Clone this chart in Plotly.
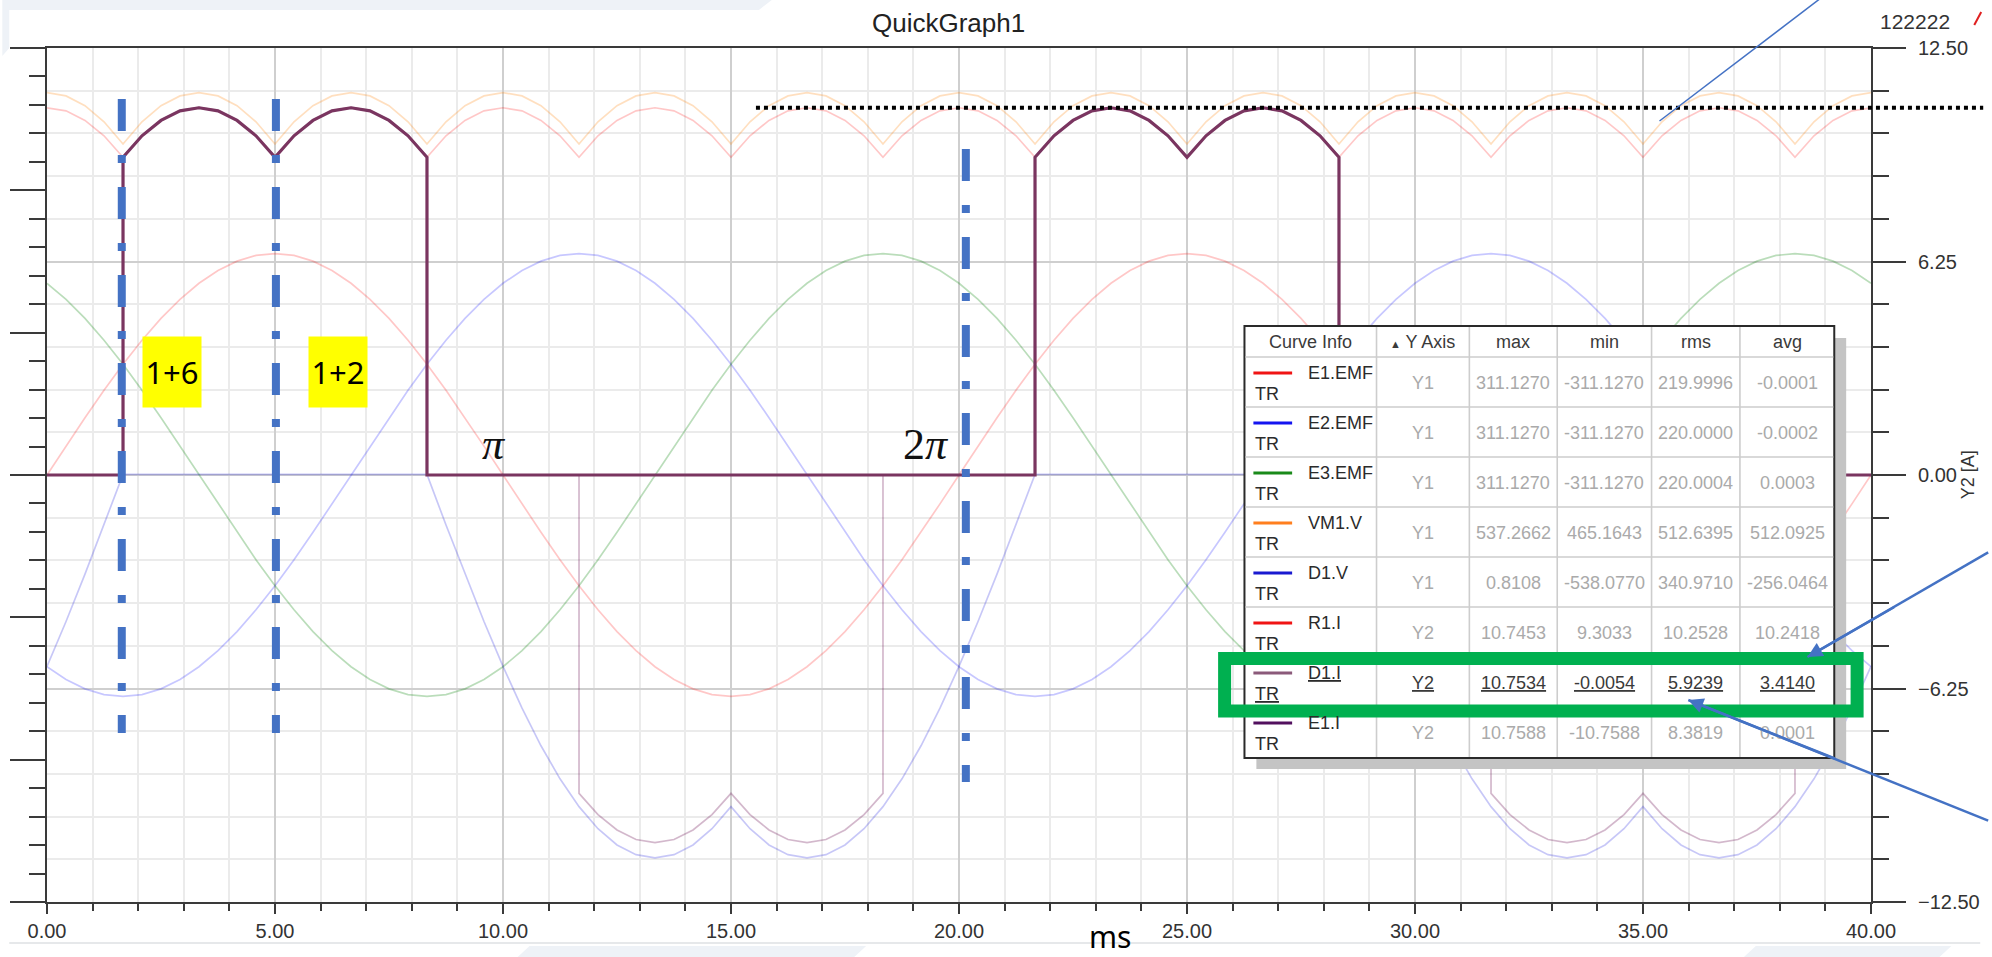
import plotly.graph_objects as go

# ---------------------------------------------------------------------------
# Sampled waveforms: time base in ms, one sample every 7.5 electrical degrees
# ---------------------------------------------------------------------------
t_ms = [0.000, 0.417, 0.833, 1.250, 1.667, 2.083, 2.500, 2.917, 3.333, 3.750, 4.167, 4.583,
        5.000, 5.417, 5.833, 6.250, 6.667, 7.083, 7.500, 7.917, 8.333, 8.750, 9.167, 9.583,
        10.000, 10.417, 10.833, 11.250, 11.667, 12.083, 12.500, 12.917, 13.333, 13.750, 14.167, 14.583,
        15.000, 15.417, 15.833, 16.250, 16.667, 17.083, 17.500, 17.917, 18.333, 18.750, 19.167, 19.583,
        20.000, 20.417, 20.833, 21.250, 21.667, 22.083, 22.500, 22.917, 23.333, 23.750, 24.167, 24.583,
        25.000, 25.417, 25.833, 26.250, 26.667, 27.083, 27.500, 27.917, 28.333, 28.750, 29.167, 29.583,
        30.000, 30.417, 30.833, 31.250, 31.667, 32.083, 32.500, 32.917, 33.333, 33.750, 34.167, 34.583,
        35.000, 35.417, 35.833, 36.250, 36.667, 37.083, 37.500, 37.917, 38.333, 38.750, 39.167, 39.583,
        40.000]

# Voltages on Y1 (V)
e1_emf = [0.0, 40.6, 80.5, 119.1, 155.6, 189.4, 220.0, 246.8, 269.4, 287.4, 300.5, 308.5,
          311.1, 308.5, 300.5, 287.4, 269.4, 246.8, 220.0, 189.4, 155.6, 119.1, 80.5, 40.6,
          0.0, -40.6, -80.5, -119.1, -155.6, -189.4, -220.0, -246.8, -269.4, -287.4, -300.5, -308.5,
          -311.1, -308.5, -300.5, -287.4, -269.4, -246.8, -220.0, -189.4, -155.6, -119.1, -80.5, -40.6,
          0.0, 40.6, 80.5, 119.1, 155.6, 189.4, 220.0, 246.8, 269.4, 287.4, 300.5, 308.5,
          311.1, 308.5, 300.5, 287.4, 269.4, 246.8, 220.0, 189.4, 155.6, 119.1, 80.5, 40.6,
          0.0, -40.6, -80.5, -119.1, -155.6, -189.4, -220.0, -246.8, -269.4, -287.4, -300.5, -308.5,
          -311.1, -308.5, -300.5, -287.4, -269.4, -246.8, -220.0, -189.4, -155.6, -119.1, -80.5, -40.6,
          0.0]
e2_emf = [-269.4, -287.4, -300.5, -308.5, -311.1, -308.5, -300.5, -287.4, -269.4, -246.8, -220.0, -189.4,
          -155.6, -119.1, -80.5, -40.6, 0.0, 40.6, 80.5, 119.1, 155.6, 189.4, 220.0, 246.8,
          269.4, 287.4, 300.5, 308.5, 311.1, 308.5, 300.5, 287.4, 269.4, 246.8, 220.0, 189.4,
          155.6, 119.1, 80.5, 40.6, 0.0, -40.6, -80.5, -119.1, -155.6, -189.4, -220.0, -246.8,
          -269.4, -287.4, -300.5, -308.5, -311.1, -308.5, -300.5, -287.4, -269.4, -246.8, -220.0, -189.4,
          -155.6, -119.1, -80.5, -40.6, 0.0, 40.6, 80.5, 119.1, 155.6, 189.4, 220.0, 246.8,
          269.4, 287.4, 300.5, 308.5, 311.1, 308.5, 300.5, 287.4, 269.4, 246.8, 220.0, 189.4,
          155.6, 119.1, 80.5, 40.6, 0.0, -40.6, -80.5, -119.1, -155.6, -189.4, -220.0, -246.8,
          -269.4]
e3_emf = [269.4, 246.8, 220.0, 189.4, 155.6, 119.1, 80.5, 40.6, 0.0, -40.6, -80.5, -119.1,
          -155.6, -189.4, -220.0, -246.8, -269.4, -287.4, -300.5, -308.5, -311.1, -308.5, -300.5, -287.4,
          -269.4, -246.8, -220.0, -189.4, -155.6, -119.1, -80.5, -40.6, 0.0, 40.6, 80.5, 119.1,
          155.6, 189.4, 220.0, 246.8, 269.4, 287.4, 300.5, 308.5, 311.1, 308.5, 300.5, 287.4,
          269.4, 246.8, 220.0, 189.4, 155.6, 119.1, 80.5, 40.6, 0.0, -40.6, -80.5, -119.1,
          -155.6, -189.4, -220.0, -246.8, -269.4, -287.4, -300.5, -308.5, -311.1, -308.5, -300.5, -287.4,
          -269.4, -246.8, -220.0, -189.4, -155.6, -119.1, -80.5, -40.6, 0.0, 40.6, 80.5, 119.1,
          155.6, 189.4, 220.0, 246.8, 269.4, 287.4, 300.5, 308.5, 311.1, 308.5, 300.5, 287.4,
          269.4]
vm1_v = [537.3, 532.7, 519.0, 496.4, 465.2, 496.4, 519.0, 532.7,
         537.3, 532.7, 519.0, 496.4, 465.2, 496.4, 519.0, 532.7,
         537.3, 532.7, 519.0, 496.4, 465.2, 496.4, 519.0, 532.7,
         537.3, 532.7, 519.0, 496.4, 465.2, 496.4, 519.0, 532.7,
         537.3, 532.7, 519.0, 496.4, 465.2, 496.4, 519.0, 532.7,
         537.3, 532.7, 519.0, 496.4, 465.2, 496.4, 519.0, 532.7,
         537.3, 532.7, 519.0, 496.4, 465.2, 496.4, 519.0, 532.7,
         537.3, 532.7, 519.0, 496.4, 465.2, 496.4, 519.0, 532.7,
         537.3, 532.7, 519.0, 496.4, 465.2, 496.4, 519.0, 532.7,
         537.3, 532.7, 519.0, 496.4, 465.2, 496.4, 519.0, 532.7,
         537.3, 532.7, 519.0, 496.4, 465.2, 496.4, 519.0, 532.7,
         537.3, 532.7, 519.0, 496.4, 465.2, 496.4, 519.0, 532.7,
         537.3]
d1_v = [-269.0, -205.9, -139.3, -70.2, 0.8, 0.8, 0.8, 0.8, 0.8, 0.8, 0.8, 0.8,
        0.8, 0.8, 0.8, 0.8, 0.8, 0.8, 0.8, 0.8, 0.8, -70.2, -139.3, -205.9,
        -269.0, -327.6, -380.5, -426.9, -466.0, -497.1, -519.8, -533.5, -538.1, -533.5, -519.8, -497.1,
        -466.0, -497.1, -519.8, -533.5, -538.1, -533.5, -519.8, -497.1, -466.0, -426.9, -380.5, -327.6,
        -269.0, -205.9, -139.3, -70.2, 0.8, 0.8, 0.8, 0.8, 0.8, 0.8, 0.8, 0.8,
        0.8, 0.8, 0.8, 0.8, 0.8, 0.8, 0.8, 0.8, 0.8, -70.2, -139.3, -205.9,
        -269.0, -327.6, -380.5, -426.9, -466.0, -497.1, -519.8, -533.5, -538.1, -533.5, -519.8, -497.1,
        -466.0, -497.1, -519.8, -533.5, -538.1, -533.5, -519.8, -497.1, -466.0, -426.9, -380.5, -327.6,
        -269.0]

# Currents on Y2 (A)
r1_i = [10.75, 10.66, 10.38, 9.93, 9.30, 9.93, 10.38, 10.66,
        10.75, 10.66, 10.38, 9.93, 9.30, 9.93, 10.38, 10.66,
        10.75, 10.66, 10.38, 9.93, 9.30, 9.93, 10.38, 10.66,
        10.75, 10.66, 10.38, 9.93, 9.30, 9.93, 10.38, 10.66,
        10.75, 10.66, 10.38, 9.93, 9.30, 9.93, 10.38, 10.66,
        10.75, 10.66, 10.38, 9.93, 9.30, 9.93, 10.38, 10.66,
        10.75, 10.66, 10.38, 9.93, 9.30, 9.93, 10.38, 10.66,
        10.75, 10.66, 10.38, 9.93, 9.30, 9.93, 10.38, 10.66,
        10.75, 10.66, 10.38, 9.93, 9.30, 9.93, 10.38, 10.66,
        10.75, 10.66, 10.38, 9.93, 9.30, 9.93, 10.38, 10.66,
        10.75, 10.66, 10.38, 9.93, 9.30, 9.93, 10.38, 10.66,
        10.75, 10.66, 10.38, 9.93, 9.30, 9.93, 10.38, 10.66,
        10.75]

d1_i_t = [0.000, 1.667,
          1.667, 2.083, 2.500, 2.917, 3.333, 3.750, 4.167, 4.583, 5.000,
          5.417, 5.833, 6.250, 6.667, 7.083, 7.500, 7.917, 8.333,
          8.333, 21.667,
          21.667, 22.083, 22.500, 22.917, 23.333, 23.750, 24.167, 24.583, 25.000,
          25.417, 25.833, 26.250, 26.667, 27.083, 27.500, 27.917, 28.333,
          28.333, 40.000]
d1_i = [0.0, 0.0,
        9.30, 9.93, 10.38, 10.66, 10.75, 10.66, 10.38, 9.93, 9.30,
        9.93, 10.38, 10.66, 10.75, 10.66, 10.38, 9.93, 9.30,
        0.0, 0.0,
        9.30, 9.93, 10.38, 10.66, 10.75, 10.66, 10.38, 9.93, 9.30,
        9.93, 10.38, 10.66, 10.75, 10.66, 10.38, 9.93, 9.30,
        0.0, 0.0]

e1_i_t = [0.000, 1.667,
          1.667, 2.083, 2.500, 2.917, 3.333, 3.750, 4.167, 4.583, 5.000,
          5.417, 5.833, 6.250, 6.667, 7.083, 7.500, 7.917, 8.333,
          8.333, 11.667,
          11.667, 12.083, 12.500, 12.917, 13.333, 13.750, 14.167, 14.583, 15.000,
          15.417, 15.833, 16.250, 16.667, 17.083, 17.500, 17.917, 18.333,
          18.333, 21.667,
          21.667, 22.083, 22.500, 22.917, 23.333, 23.750, 24.167, 24.583, 25.000,
          25.417, 25.833, 26.250, 26.667, 27.083, 27.500, 27.917, 28.333,
          28.333, 31.667,
          31.667, 32.083, 32.500, 32.917, 33.333, 33.750, 34.167, 34.583, 35.000,
          35.417, 35.833, 36.250, 36.667, 37.083, 37.500, 37.917, 38.333,
          38.333, 40.000]
e1_i = [0.0, 0.0,
        9.32, 9.94, 10.39, 10.67, 10.76, 10.67, 10.39, 9.94, 9.32,
        9.94, 10.39, 10.67, 10.76, 10.67, 10.39, 9.94, 9.32,
        0.0, 0.0,
        -9.32, -9.94, -10.39, -10.67, -10.76, -10.67, -10.39, -9.94, -9.32,
        -9.94, -10.39, -10.67, -10.76, -10.67, -10.39, -9.94, -9.32,
        0.0, 0.0,
        9.32, 9.94, 10.39, 10.67, 10.76, 10.67, 10.39, 9.94, 9.32,
        9.94, 10.39, 10.67, 10.76, 10.67, 10.39, 9.94, 9.32,
        0.0, 0.0,
        -9.32, -9.94, -10.39, -10.67, -10.76, -10.67, -10.39, -9.94, -9.32,
        -9.94, -10.39, -10.67, -10.76, -10.67, -10.39, -9.94, -9.32,
        0.0, 0.0]

# Curve Info table
info_header = ["Curve Info", "<span style='font-size:11px'>▲</span> Y Axis", "max", "min", "rms", "avg"]
info_names = ["E1.EMF", "E2.EMF", "E3.EMF", "VM1.V", "D1.V", "R1.I", "D1.I", "E1.I"]
info_axis = ["Y1", "Y1", "Y1", "Y1", "Y1", "Y2", "Y2", "Y2"]
info_max = ["311.1270", "311.1270", "311.1270", "537.2662", "0.8108", "10.7453", "10.7534", "10.7588"]
info_min = ["-311.1270", "-311.1270", "-311.1270", "465.1643", "-538.0770", "9.3033", "-0.0054", "-10.7588"]
info_rms = ["219.9996", "220.0000", "220.0004", "512.6395", "340.9710", "10.2528", "5.9239", "8.3819"]
info_avg = ["-0.0001", "-0.0002", "0.0003", "512.0925", "-256.0464", "10.2418", "3.4140", "0.0001"]
info_swatch = ["#f01414", "#1414f0", "#1a8a1a", "#ff7f1e", "#1a1ad0", "#f01414", "#8b5a7a", "#52105e"]
selected_curve = "D1.I"
d1_i_peak = 10.7534

# Commutation markers and phase-pair labels
marker_ms = [1.64, 5.02, 20.15]
pair_labels = ["1+6", "1+2"]

# ---------------------------------------------------------------------------
# Page geometry (pixels) and helpers for paper-referenced decorations
# ---------------------------------------------------------------------------
W, H = 1992, 957
L, R, T, B = 45, 1882, 48, 902


def px(x):
    return (x - L) / (R - L)


def py(y):
    return (B - y) / (B - T)


fig = go.Figure()

faded = [
    (t_ms, e1_emf, "E1.EMF", "y", "rgba(255,0,0,0.22)"),
    (t_ms, e2_emf, "E2.EMF", "y", "rgba(0,0,255,0.22)"),
    (t_ms, e3_emf, "E3.EMF", "y", "rgba(0,128,0,0.27)"),
    (t_ms, vm1_v, "VM1.V", "y", "rgba(255,127,0,0.25)"),
    (t_ms, d1_v, "D1.V", "y", "rgba(0,0,220,0.22)"),
    (t_ms, r1_i, "R1.I", "y2", "rgba(255,0,0,0.22)"),
    (e1_i_t, e1_i, "E1.I", "y2", "rgba(122,40,100,0.33)"),
]
for xs, ys, name, ax, col in faded:
    fig.add_trace(go.Scatter(x=xs, y=ys, name=name, yaxis=ax, mode="lines",
                             line=dict(color=col, width=1.7), hoverinfo="skip"))

fig.add_trace(go.Scatter(x=d1_i_t, y=d1_i, name="D1.I", yaxis="y2", mode="lines",
                         line=dict(color="#7a3560", width=3.2)))

shapes = []
annotations = []

# slide background bands around the captured window
shapes.append(dict(type="path", xref="paper", yref="paper", layer="below",
                   path=f"M {px(0)},{py(0)} L {px(775)},{py(0)} L {px(762)},{py(10)} L {px(7)},{py(10)} "
                        f"L {px(7)},{py(48)} L {px(0)},{py(56)} Z",
                   fillcolor="#eef2f7", line=dict(width=0)))
shapes.append(dict(type="line", xref="paper", yref="paper", layer="below",
                   x0=px(7), x1=px(1992), y0=py(943), y1=py(943), line=dict(color="#e6e8ea", width=2)))
for xa, xb in [(531, 870), (1766, 1963)]:
    shapes.append(dict(type="path", xref="paper", yref="paper", layer="below",
                       path=f"M {px(xa)},{py(946)} L {px(xb)},{py(946)} L {px(xb - 12)},{py(957)} "
                            f"L {px(xa - 12)},{py(957)} Z",
                       fillcolor="#eef2f7", line=dict(width=0)))

# dash-dot commutation markers
marker_spans = [(99, 733), (99, 733), (149, 782)]
for xm, (ya, yb) in zip(marker_ms, marker_spans):
    shapes.append(dict(type="line", xref="x", yref="paper", layer="above",
                       x0=xm, x1=xm, y0=py(ya), y1=py(yb),
                       line=dict(color="#4472c4", width=8, dash="32px,24px,8px,24px")))

# dotted level line at the D1.I peak
shapes.append(dict(type="line", xref="paper", yref="y2", layer="above",
                   x0=px(759), x1=px(1995), y0=d1_i_peak, y1=d1_i_peak,
                   line=dict(color="black", width=4, dash="4px,4px")))

# thin pointer line towards the top edge
shapes.append(dict(type="line", xref="paper", yref="paper", layer="above",
                   x0=px(1669), y0=py(121), x1=px(1862), y1=py(-25),
                   line=dict(color="#4472c4", width=1.5)))
shapes.append(dict(type="line", xref="paper", yref="paper", layer="above",
                   x0=px(1986), y0=py(25), x1=px(1993), y1=py(12),
                   line=dict(color="#e02020", width=2)))

# Curve Info table
tb_l, tb_r, tb_t, tb_b = 1251, 1845, 326, 758
head_b = 357
row_h = 50
col_edges = [1251, 1384, 1477.5, 1566, 1661, 1750, 1845]
shapes.append(dict(type="rect", xref="paper", yref="paper", layer="above",
                   x0=px(tb_l + 12), x1=px(tb_r + 12), y0=py(tb_t + 12), y1=py(tb_b + 11),
                   fillcolor="#c4c4c4", line=dict(width=0)))
shapes.append(dict(type="rect", xref="paper", yref="paper", layer="above",
                   x0=px(tb_l), x1=px(tb_r), y0=py(tb_t), y1=py(tb_b),
                   fillcolor="white", line=dict(color="#2a2a2a", width=2)))
for i in range(len(info_names)):
    yl = head_b + i * row_h
    shapes.append(dict(type="line", xref="paper", yref="paper", layer="above",
                       x0=px(tb_l + 1), x1=px(tb_r - 1), y0=py(yl), y1=py(yl),
                       line=dict(color="#cdcdcd", width=1.6)))
for xe in col_edges[1:-1]:
    shapes.append(dict(type="line", xref="paper", yref="paper", layer="above",
                       x0=px(xe), x1=px(xe), y0=py(tb_t + 1), y1=py(tb_b - 1),
                       line=dict(color="#cdcdcd", width=1.6)))

col_mid = [(a + b) / 2 for a, b in zip(col_edges[:-1], col_edges[1:])]
tfont = "Liberation Sans, Arial, sans-serif"
for label, xc in zip(info_header, col_mid):
    annotations.append(dict(x=px(xc), y=py((tb_t + head_b) / 2), xref="paper", yref="paper",
                            text=label, showarrow=False, xanchor="center", yanchor="middle",
                            font=dict(family=tfont, size=18, color="#3a3a3a")))

for i, name in enumerate(info_names):
    top = head_b + i * row_h
    sel = name == selected_curve
    under = "under" if sel else "none"
    shapes.append(dict(type="line", xref="paper", yref="paper", layer="above",
                       x0=px(1260), x1=px(1299), y0=py(top + 16), y1=py(top + 16),
                       line=dict(color=info_swatch[i], width=3)))
    annotations.append(dict(x=px(1313), y=py(top + 16), xref="paper", yref="paper", text=name,
                            showarrow=False, xanchor="left", yanchor="middle",
                            font=dict(family=tfont, size=18, color="#2b2b2b", lineposition=under)))
    annotations.append(dict(x=px(1260), y=py(top + 37), xref="paper", yref="paper", text="TR",
                            showarrow=False, xanchor="left", yanchor="middle",
                            font=dict(family=tfont, size=18, color="#2b2b2b", lineposition=under)))
    cells = [info_axis[i], info_max[i], info_min[i], info_rms[i], info_avg[i]]
    for val, xc in zip(cells, col_mid[1:]):
        annotations.append(dict(x=px(xc), y=py(top + 26), xref="paper", yref="paper", text=val,
                                showarrow=False, xanchor="center", yanchor="middle",
                                font=dict(family=tfont, size=18,
                                          color="#3a3a3a" if sel else "#aaaaaa",
                                          lineposition=under)))

# highlight frame around the selected row
shapes.append(dict(type="rect", xref="paper", yref="paper", layer="above",
                   x0=px(1231), x1=px(1868), y0=py(658.5), y1=py(711),
                   line=dict(color="#00b050", width=13)))

# call-out arrows: shaft runs off the right page edge, head drawn by an annotation
for tip, edge in [((1818, 657), (2000, 552.4)), ((1698, 700), (2000, 820.6))]:
    shapes.append(dict(type="line", xref="paper", yref="paper", layer="above",
                       x0=px(tip[0]), y0=py(tip[1]), x1=px(edge[0]), y1=py(edge[1]),
                       line=dict(color="#4472c4", width=2.5)))
    hx = tip[0] + 0.5 * (edge[0] - tip[0])
    hy = tip[1] + 0.5 * (edge[1] - tip[1])
    annotations.append(dict(x=px(tip[0]), y=py(tip[1]), xref="paper", yref="paper",
                            ax=hx - tip[0], ay=hy - tip[1], axref="pixel", ayref="pixel",
                            text=" ", showarrow=True, arrowhead=2, arrowsize=1.2,
                            arrowwidth=2.5, arrowcolor="#4472c4"))

# phase-pair labels
for label, xc in zip(pair_labels, [171, 338]):
    annotations.append(dict(x=px(xc), y=py(372), xref="paper", yref="paper", text=label,
                            showarrow=False, xanchor="center", yanchor="middle",
                            width=58, height=70, bgcolor="#ffff00", borderpad=0,
                            font=dict(family="Noto Sans, sans-serif", size=31, color="black")))

# angle labels
for label, xc in [("<i>π</i>", 495), ("2<i>π</i>", 930)]:
    annotations.append(dict(x=px(xc), y=py(445), xref="paper", yref="paper", text=label,
                            showarrow=False, xanchor="center", yanchor="middle",
                            font=dict(family="Liberation Serif, serif", size=44, color="#111")))

# titles and axis captions
annotations.append(dict(x=px(953), y=py(23), xref="paper", yref="paper", text="QuickGraph1",
                        showarrow=False, xanchor="center", yanchor="middle",
                        font=dict(family=tfont, size=26, color="#222")))
annotations.append(dict(x=px(1889), y=py(22), xref="paper", yref="paper", text="122222",
                        showarrow=False, xanchor="left", yanchor="middle",
                        font=dict(family=tfont, size=21, color="#333")))
annotations.append(dict(x=px(1116), y=py(936), xref="paper", yref="paper", text="ms",
                        showarrow=False, xanchor="center", yanchor="middle",
                        font=dict(family="Noto Sans, sans-serif", size=30, color="black")))
annotations.append(dict(x=px(1980), y=py(475), xref="paper", yref="paper", text="Y2 [A]",
                        showarrow=False, xanchor="center", yanchor="middle", textangle=-90,
                        font=dict(family=tfont, size=18, color="#333")))

axis_col = "#3a3a3a"
fig.update_layout(
    width=W, height=H, autosize=False,
    margin=dict(l=L, r=W - R, t=T, b=H - B, pad=0),
    paper_bgcolor="white", plot_bgcolor="white", showlegend=False,
    font=dict(family=tfont, size=20, color="#333"),
    xaxis=dict(range=[0, 40], dtick=5, tick0=0, tickformat=".2f",
               ticks="outside", ticklen=10, tickwidth=2, tickcolor=axis_col,
               showline=True, linecolor=axis_col, linewidth=2, mirror=True,
               showgrid=True, gridcolor="#cfcfcf", gridwidth=1.6, zeroline=False,
               tickfont=dict(size=20, color="#333"),
               minor=dict(dtick=1, ticks="outside", ticklen=7, tickwidth=2, tickcolor=axis_col,
                          showgrid=True, gridcolor="#ebebeb", gridwidth=1.6)),
    yaxis=dict(range=[-600, 600], dtick=200, tick0=0, showticklabels=False,
               ticks="outside", ticklen=35, tickwidth=2, tickcolor=axis_col,
               showline=True, linecolor=axis_col, linewidth=2,
               showgrid=False, zeroline=False,
               minor=dict(dtick=40, ticks="outside", ticklen=16, tickwidth=2,
                          tickcolor=axis_col, showgrid=False)),
    yaxis2=dict(range=[-12.5, 12.5], dtick=6.25, tick0=0, tickformat=".2f",
                overlaying="y", side="right",
                ticks="outside", ticklen=33, tickwidth=2, tickcolor=axis_col,
                showline=True, linecolor=axis_col, linewidth=2,
                showgrid=True, gridcolor="#cfcfcf", gridwidth=1.6, zeroline=False,
                tickfont=dict(size=20, color="#333"), ticklabelstandoff=8,
                minor=dict(dtick=1.25, ticks="outside", ticklen=16, tickwidth=2,
                           tickcolor=axis_col, showgrid=True, gridcolor="#ebebeb",
                           gridwidth=1.6)),
    shapes=shapes,
    annotations=annotations,
)

fig.write_html("out.html", config={"displayModeBar": False})
